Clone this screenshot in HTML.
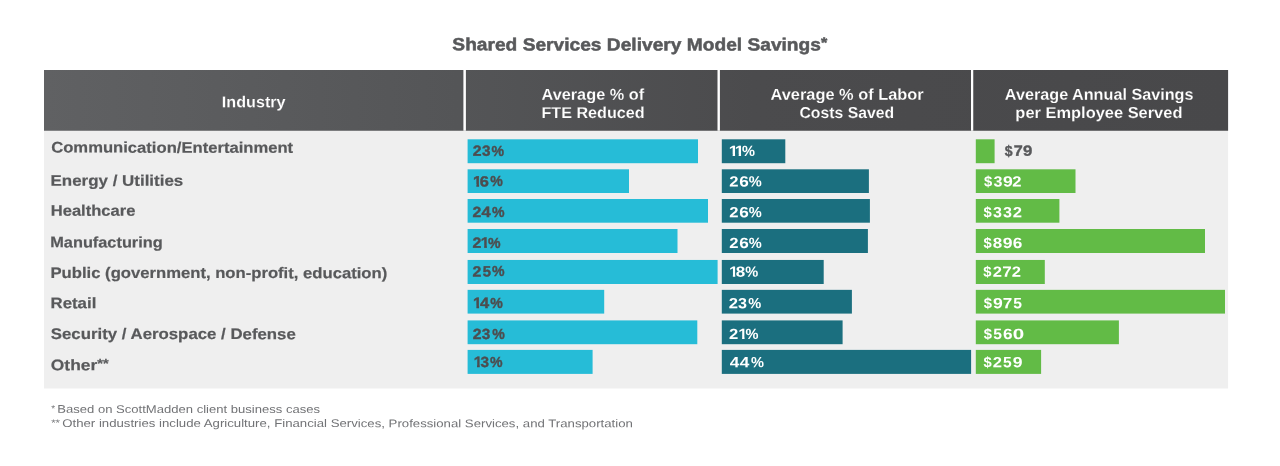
<!DOCTYPE html>
<html lang="en"><head><meta charset="utf-8"><title>Shared Services Delivery Model Savings</title>
<style>
html,body{margin:0;padding:0;background:#fff;}
body{width:1280px;height:466px;position:relative;overflow:hidden;font-family:"Liberation Sans",sans-serif;}
.bg{position:absolute;left:0;top:0;display:block;}
.t,.l{position:absolute;white-space:pre;line-height:1;transform-origin:0 0;}
.l i{display:inline-block;font-style:normal;transform-origin:0 0;}
.t sup{font-size:.84em;vertical-align:.2em;line-height:0;}
.tt{font-size:17.5px;font-weight:700;color:#58595b;-webkit-text-stroke:0.5px #58595b;}
.th{font-size:15.8px;font-weight:700;color:#ffffff;-webkit-text-stroke-width:0.15px;}
.tr{font-size:15.3px;font-weight:700;color:#58595b;-webkit-text-stroke:0.2px #58595b;}
.tf{font-size:11.2px;font-weight:400;color:#727376;}
.ta{font-size:9.5px;font-weight:400;color:#727376;}
.ld{font-size:14.8px;font-weight:700;color:#4d4d4f;-webkit-text-stroke:0.4px #4d4d4f;}
.lg{font-size:14.8px;font-weight:700;color:#58595b;-webkit-text-stroke:0.4px #58595b;}
.lw{font-size:14.8px;font-weight:700;color:#ffffff;}
</style></head><body>

<svg class="bg" width="1280" height="466" viewBox="0 0 1280 466" aria-hidden="true">
<defs><linearGradient id="hg" x1="0" x2="1" y1="0" y2="0"><stop offset="0" stop-color="#606163"/><stop offset="0.35" stop-color="#545557"/><stop offset="0.6" stop-color="#4b4b4d"/><stop offset="1" stop-color="#48484a"/></linearGradient></defs>
<rect x="44.0" y="70.0" width="1184.10" height="318.50" fill="#efefef"/>
<rect x="44.0" y="70.0" width="1184.10" height="60.75" fill="url(#hg)"/>
<rect x="463.4" y="69.0" width="2.50" height="61.75" fill="#fff"/>
<rect x="717.5" y="69.0" width="2.40" height="61.75" fill="#fff"/>
<rect x="971.0" y="69.0" width="2.25" height="61.75" fill="#fff"/>
<rect x="467.60" y="139.30" width="230.40" height="23.90" fill="#26bcd7"/>
<rect x="721.80" y="139.30" width="63.50" height="23.90" fill="#1b6f7f"/>
<rect x="975.80" y="139.30" width="18.80" height="23.90" fill="#62bb46"/>
<rect x="467.60" y="169.30" width="161.40" height="23.70" fill="#26bcd7"/>
<rect x="721.80" y="169.30" width="147.10" height="23.70" fill="#1b6f7f"/>
<rect x="975.80" y="169.30" width="99.70" height="23.70" fill="#62bb46"/>
<rect x="467.60" y="199.00" width="240.40" height="23.70" fill="#26bcd7"/>
<rect x="721.80" y="199.00" width="148.10" height="23.70" fill="#1b6f7f"/>
<rect x="975.80" y="199.00" width="83.60" height="23.70" fill="#62bb46"/>
<rect x="467.60" y="229.00" width="209.90" height="24.00" fill="#26bcd7"/>
<rect x="721.80" y="229.00" width="146.10" height="24.00" fill="#1b6f7f"/>
<rect x="975.80" y="229.00" width="229.20" height="24.00" fill="#62bb46"/>
<rect x="467.60" y="259.95" width="250.00" height="24.05" fill="#26bcd7"/>
<rect x="721.80" y="259.95" width="101.90" height="24.05" fill="#1b6f7f"/>
<rect x="975.80" y="259.95" width="69.00" height="24.05" fill="#62bb46"/>
<rect x="467.60" y="289.85" width="136.60" height="23.75" fill="#26bcd7"/>
<rect x="721.80" y="289.85" width="130.10" height="23.75" fill="#1b6f7f"/>
<rect x="975.80" y="289.85" width="249.20" height="23.75" fill="#62bb46"/>
<rect x="467.60" y="320.40" width="229.70" height="23.80" fill="#26bcd7"/>
<rect x="721.80" y="320.40" width="120.80" height="23.80" fill="#1b6f7f"/>
<rect x="975.80" y="320.40" width="143.10" height="23.80" fill="#62bb46"/>
<rect x="467.60" y="349.90" width="125.00" height="24.00" fill="#26bcd7"/>
<rect x="721.80" y="349.90" width="249.30" height="24.00" fill="#1b6f7f"/>
<rect x="975.80" y="349.90" width="65.30" height="24.00" fill="#62bb46"/>
</svg>
<div class="t tt" style="left:452px;top:36px;transform:matrix(1.0952,0.0005,0,1,0.35,0.36)">Shared Services Delivery Model Savings<sup>*</sup></div>
<div class="t th" style="left:221px;top:94px;transform:matrix(1.0226,0.0005,0,1,0.81,0.16);-webkit-text-stroke-color:#58595b">Industry</div>
<div class="t th" style="left:541px;top:86px;transform:matrix(1.0311,0.0005,0,1,0.51,0.65);-webkit-text-stroke-color:#4f5052">Average % of</div>
<div class="t th" style="left:541px;top:105px;transform:matrix(1.0232,0.0005,0,1,0.41,0.05);-webkit-text-stroke-color:#4f5052">FTE Reduced</div>
<div class="t th" style="left:770px;top:86px;transform:matrix(1.0357,0.0005,0,1,0.56,0.64);-webkit-text-stroke-color:#4a4a4c">Average % of Labor</div>
<div class="t th" style="left:799px;top:105px;transform:matrix(0.9977,0.0005,0,1,0.46,0.05);-webkit-text-stroke-color:#4a4a4c">Costs Saved</div>
<div class="t th" style="left:1004px;top:86px;transform:matrix(1.0252,0.0005,0,1,0.82,0.63);-webkit-text-stroke-color:#48484a">Average Annual Savings</div>
<div class="t th" style="left:1015px;top:105px;transform:matrix(1.0396,0.0005,0,1,0.37,0.03);-webkit-text-stroke-color:#48484a">per Employee Served</div>
<div class="t tr" style="left:51px;top:139px;transform:matrix(1.0865,0.0005,0,1,0.22,0.59)">Communication/Entertainment</div>
<div class="t tr" style="left:50px;top:172px;transform:matrix(1.1075,0.0005,0,1,0.49,0.67)">Energy / Utilities</div>
<div class="t tr" style="left:50px;top:202px;transform:matrix(1.0825,0.0005,0,1,0.71,0.78)">Healthcare</div>
<div class="t tr" style="left:50px;top:234px;transform:matrix(1.0674,0.0005,0,1,0.22,0.37)">Manufacturing</div>
<div class="t tr" style="left:50px;top:265px;transform:matrix(1.0886,0.0005,0,1,0.50,0.02)">Public (government, non-profit, education)</div>
<div class="t tr" style="left:50px;top:295px;transform:matrix(1.1008,0.0005,0,1,0.49,0.19)">Retail</div>
<div class="t tr" style="left:50px;top:326px;transform:matrix(1.0985,0.0005,0,1,0.80,0.04)">Security / Aerospace / Defense</div>
<div class="t tr" style="left:50px;top:357px;transform:matrix(1.1382,0.0005,0,1,0.81,0.19)">Other<sup>**</sup></div>
<div class="t ta" style="left:51px;top:403px;transform:matrix(1.0500,0.0005,0,1,0.17,0.69)">*</div>
<div class="t tf" style="left:57px;top:403px;transform:matrix(1.1676,0.0005,0,1,0.21,0.87)">Based on ScottMadden client business cases</div>
<div class="t ta" style="left:51px;top:417px;transform:matrix(1.2000,0.0005,0,1,0.17,0.89)">**</div>
<div class="t tf" style="left:62px;top:417px;transform:matrix(1.1795,0.0005,0,1,0.22,1.00)">Other industries include Agriculture, Financial Services, Professional Services, and Transportation</div>
<div class="l ld" style="left:472px;top:143px;transform:matrix(1,0.0005,0,1,0.43,0.79)"><i style="width:9.24px;transform:translateX(0.43px) scaleX(1.067)">2</i><i style="width:9.24px;transform:translateX(0.62px) scaleX(1.033)">3</i><i style="width:14.09px;transform:translateX(0.95px) scaleX(0.952)">%</i></div>
<div class="l lw" style="left:729px;top:143px;transform:matrix(1,0.0005,0,1,0.38,0.99)"><i style="width:6.24px;transform:translateX(-0.64px) scaleX(1.151);clip-path:polygon(0.01px -2px,5.53px -2px,5.53px 14.00px,3.40px 14.00px,3.40px 9.89px,0.01px 9.89px)">1</i><i style="width:6.24px;transform:translateX(-0.64px) scaleX(1.151);clip-path:polygon(0.01px -2px,5.53px -2px,5.53px 14.00px,3.40px 14.00px,3.40px 9.89px,0.01px 9.89px)">1</i><i style="width:14.44px;transform:translateX(0.74px) scaleX(0.984)">%</i></div>
<div class="l lg" style="left:1003px;top:143px;transform:matrix(1,0.0005,0,1,0.65,0.79)"><i style="width:9.90px;transform:translateX(1.07px) scaleX(0.946)">$</i><i style="width:9.20px;transform:translateX(0.10px) scaleX(1.094)">7</i><i style="width:9.80px;transform:translateX(0.27px) scaleX(1.130)">9</i></div>
<div class="l ld" style="left:473px;top:174px;transform:matrix(1,0.0005,0,1,0.38,0.39)"><i style="width:6.31px;transform:translateX(-0.35px) scaleX(1.062);clip-path:polygon(0.01px -2px,5.73px -2px,5.73px 14.00px,3.20px 14.00px,3.20px 9.69px,0.01px 9.69px)">1</i><i style="width:9.91px;transform:translateX(0.35px) scaleX(1.104)">6</i><i style="width:14.51px;transform:translateX(0.95px) scaleX(0.952)">%</i></div>
<div class="l lw" style="left:729px;top:174px;transform:matrix(1,0.0005,0,1,0.12,0.59)"><i style="width:9.59px;transform:translateX(0.20px) scaleX(1.123)">2</i><i style="width:9.84px;transform:translateX(0.12px) scaleX(1.160)">6</i><i style="width:14.44px;transform:translateX(0.74px) scaleX(0.984)">%</i></div>
<div class="l lw" style="left:983px;top:174px;transform:matrix(1,0.0005,0,1,0.05,0.59)"><i style="width:9.96px;transform:translateX(0.86px) scaleX(0.997)">$</i><i style="width:9.61px;transform:translateX(0.41px) scaleX(1.087)">3</i><i style="width:9.86px;transform:translateX(0.04px) scaleX(1.186)">9</i><i style="width:9.61px;transform:translateX(0.20px) scaleX(1.123)">2</i></div>
<div class="l ld" style="left:472px;top:204px;transform:matrix(1,0.0005,0,1,0.12,0.99)"><i style="width:9.11px;transform:translateX(0.43px) scaleX(1.067)">2</i><i style="width:9.86px;transform:translateX(0.50px) scaleX(1.110)">4</i><i style="width:13.96px;transform:translateX(0.95px) scaleX(0.952)">%</i></div>
<div class="l lw" style="left:729px;top:205px;transform:matrix(1,0.0005,0,1,0.02,0.19)"><i style="width:9.56px;transform:translateX(0.20px) scaleX(1.123)">2</i><i style="width:9.81px;transform:translateX(0.12px) scaleX(1.160)">6</i><i style="width:14.41px;transform:translateX(0.74px) scaleX(0.984)">%</i></div>
<div class="l lw" style="left:982px;top:205px;transform:matrix(1,0.0005,0,1,0.65,0.19)"><i style="width:10.09px;transform:translateX(0.86px) scaleX(0.997)">$</i><i style="width:9.74px;transform:translateX(0.41px) scaleX(1.087)">3</i><i style="width:9.74px;transform:translateX(0.41px) scaleX(1.087)">3</i><i style="width:9.74px;transform:translateX(0.20px) scaleX(1.123)">2</i></div>
<div class="l ld" style="left:472px;top:235px;transform:matrix(1,0.0005,0,1,0.12,0.69)"><i style="width:9.41px;transform:translateX(0.43px) scaleX(1.067)">2</i><i style="width:6.06px;transform:translateX(-0.35px) scaleX(1.062);clip-path:polygon(0.01px -2px,5.73px -2px,5.73px 14.00px,3.20px 14.00px,3.20px 9.69px,0.01px 9.69px)">1</i><i style="width:14.26px;transform:translateX(0.95px) scaleX(0.952)">%</i></div>
<div class="l lw" style="left:729px;top:235px;transform:matrix(1,0.0005,0,1,0.02,0.89)"><i style="width:9.56px;transform:translateX(0.20px) scaleX(1.123)">2</i><i style="width:9.81px;transform:translateX(0.12px) scaleX(1.160)">6</i><i style="width:14.41px;transform:translateX(0.74px) scaleX(0.984)">%</i></div>
<div class="l lw" style="left:982px;top:235px;transform:matrix(1,0.0005,0,1,0.65,0.89)"><i style="width:10.17px;transform:translateX(0.86px) scaleX(0.997)">$</i><i style="width:10.07px;transform:translateX(0.16px) scaleX(1.150)">8</i><i style="width:10.07px;transform:translateX(0.04px) scaleX(1.186)">9</i><i style="width:10.07px;transform:translateX(0.12px) scaleX(1.160)">6</i></div>
<div class="l ld" style="left:472px;top:264px;transform:matrix(1,0.0005,0,1,0.12,0.49)"><i style="width:9.51px;transform:translateX(0.43px) scaleX(1.067)">2</i><i style="width:9.46px;transform:translateX(0.59px) scaleX(1.005)">5</i><i style="width:14.36px;transform:translateX(0.95px) scaleX(0.952)">%</i></div>
<div class="l lw" style="left:729px;top:264px;transform:matrix(1,0.0005,0,1,0.58,0.69)"><i style="width:5.76px;transform:translateX(-0.64px) scaleX(1.151);clip-path:polygon(0.01px -2px,5.53px -2px,5.53px 14.00px,3.40px 14.00px,3.40px 9.89px,0.01px 9.89px)">1</i><i style="width:9.36px;transform:translateX(0.16px) scaleX(1.150)">8</i><i style="width:13.96px;transform:translateX(0.74px) scaleX(0.984)">%</i></div>
<div class="l lw" style="left:982px;top:264px;transform:matrix(1,0.0005,0,1,0.45,0.69)"><i style="width:10.11px;transform:translateX(0.86px) scaleX(0.997)">$</i><i style="width:9.76px;transform:translateX(0.20px) scaleX(1.123)">2</i><i style="width:9.41px;transform:translateX(-0.13px) scaleX(1.152)">7</i><i style="width:9.76px;transform:translateX(0.20px) scaleX(1.123)">2</i></div>
<div class="l ld" style="left:473px;top:295px;transform:matrix(1,0.0005,0,1,0.38,0.99)"><i style="width:6.16px;transform:translateX(-0.35px) scaleX(1.062);clip-path:polygon(0.01px -2px,5.73px -2px,5.73px 14.00px,3.20px 14.00px,3.20px 9.69px,0.01px 9.69px)">1</i><i style="width:10.26px;transform:translateX(0.50px) scaleX(1.110)">4</i><i style="width:14.36px;transform:translateX(0.95px) scaleX(0.952)">%</i></div>
<div class="l lw" style="left:728px;top:296px;transform:matrix(1,0.0005,0,1,0.62,0.19)"><i style="width:9.29px;transform:translateX(0.20px) scaleX(1.123)">2</i><i style="width:9.29px;transform:translateX(0.41px) scaleX(1.087)">3</i><i style="width:14.14px;transform:translateX(0.74px) scaleX(0.984)">%</i></div>
<div class="l lw" style="left:982px;top:296px;transform:matrix(1,0.0005,0,1,0.85,0.19)"><i style="width:10.27px;transform:translateX(0.86px) scaleX(0.997)">$</i><i style="width:10.17px;transform:translateX(0.04px) scaleX(1.186)">9</i><i style="width:9.57px;transform:translateX(-0.13px) scaleX(1.152)">7</i><i style="width:9.87px;transform:translateX(0.37px) scaleX(1.059)">5</i></div>
<div class="l ld" style="left:472px;top:326px;transform:matrix(1,0.0005,0,1,0.23,0.89)"><i style="width:9.44px;transform:translateX(0.43px) scaleX(1.067)">2</i><i style="width:9.44px;transform:translateX(0.62px) scaleX(1.033)">3</i><i style="width:14.29px;transform:translateX(0.95px) scaleX(0.952)">%</i></div>
<div class="l lw" style="left:728px;top:327px;transform:matrix(1,0.0005,0,1,0.83,0.09)"><i style="width:9.61px;transform:translateX(0.20px) scaleX(1.123)">2</i><i style="width:6.26px;transform:translateX(-0.64px) scaleX(1.151);clip-path:polygon(0.01px -2px,5.53px -2px,5.53px 14.00px,3.40px 14.00px,3.40px 9.89px,0.01px 9.89px)">1</i><i style="width:14.46px;transform:translateX(0.74px) scaleX(0.984)">%</i></div>
<div class="l lw" style="left:982px;top:327px;transform:matrix(1,0.0005,0,1,0.85,0.09)"><i style="width:10.18px;transform:translateX(0.86px) scaleX(0.997)">$</i><i style="width:9.78px;transform:translateX(0.37px) scaleX(1.059)">5</i><i style="width:10.08px;transform:translateX(0.12px) scaleX(1.160)">6</i><i style="width:11.28px;transform:translateX(-0.21px) scaleX(1.392)">0</i></div>
<div class="l ld" style="left:473px;top:355px;transform:matrix(1,0.0005,0,1,0.98,0.09)"><i style="width:5.94px;transform:translateX(-0.35px) scaleX(1.062);clip-path:polygon(0.01px -2px,5.73px -2px,5.73px 14.00px,3.20px 14.00px,3.20px 9.69px,0.01px 9.69px)">1</i><i style="width:9.29px;transform:translateX(0.62px) scaleX(1.033)">3</i><i style="width:14.14px;transform:translateX(0.95px) scaleX(0.952)">%</i></div>
<div class="l lw" style="left:729px;top:355px;transform:matrix(1,0.0005,0,1,0.35,0.29)"><i style="width:10.32px;transform:translateX(0.29px) scaleX(1.161)">4</i><i style="width:10.32px;transform:translateX(0.29px) scaleX(1.161)">4</i><i style="width:14.42px;transform:translateX(0.74px) scaleX(0.984)">%</i></div>
<div class="l lw" style="left:982px;top:355px;transform:matrix(1,0.0005,0,1,0.65,0.29)"><i style="width:10.32px;transform:translateX(0.86px) scaleX(0.997)">$</i><i style="width:9.97px;transform:translateX(0.20px) scaleX(1.123)">2</i><i style="width:9.92px;transform:translateX(0.37px) scaleX(1.059)">5</i><i style="width:10.22px;transform:translateX(0.04px) scaleX(1.186)">9</i></div>
</body></html>
